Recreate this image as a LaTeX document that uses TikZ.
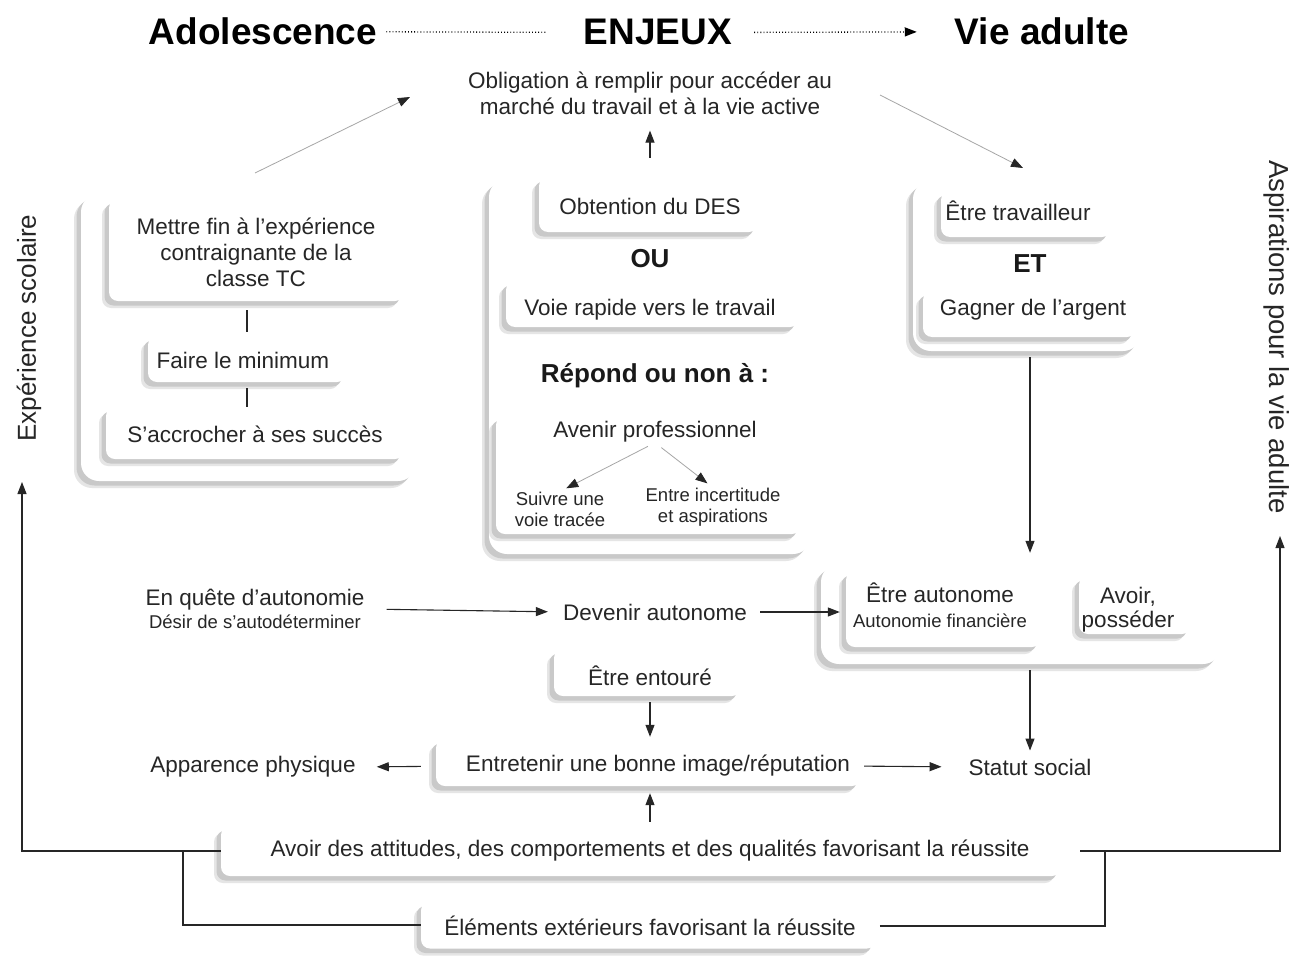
\documentclass[tikz,border=0pt]{standalone}
\usepackage{fontspec}
\setmainfont{Liberation Sans}
\usetikzlibrary{arrows.meta,shadows,calc}
\begin{document}
\begin{tikzpicture}[x=1pt,y=-1pt,
  txt/.style={font=\fontsize{22.5}{26}\selectfont, align=center, inner sep=0pt, text=black!85},
  sml/.style={font=\fontsize{18.5}{21}\selectfont, align=center, inner sep=0pt, text=black!85},
  bld/.style={font=\fontsize{26}{30}\selectfont\bfseries, inner sep=0pt, text=black!90},
  ttl/.style={font=\fontsize{37}{44}\selectfont\bfseries, inner sep=0pt, anchor=base},
  sidelbl/.style={font=\fontsize{26}{30}\selectfont, inner sep=0pt, text=black!85},
  panel/.style={fill=white, rounded corners=9pt, inner sep=0pt,
     drop shadow={shadow xshift=-7pt, shadow yshift=-7pt, fill=gray!20, opacity=1},
     drop shadow={shadow xshift=-4.5pt, shadow yshift=-4.5pt, fill=gray!42, opacity=1}},
  bigpanel/.style={panel, rounded corners=18pt},
  conn/.style={line width=1.1pt, draw=black!85},
  arr/.style={conn, -{Triangle[length=12pt,width=9pt]}},
  thinarr/.style={line width=0.8pt, draw=gray!70, -{Triangle[length=12pt,width=9pt,color=black!85,fill=black!85]}},
  dots/.style={line width=1.3pt, dash pattern=on 0.9pt off 2.2pt}
]
\fill[white] (0,0) rectangle (1295,958);
\useasboundingbox (0,0) rectangle (1295,958);

% ---------- panels (outer groups) ----------
\node[bigpanel, minimum width=335pt, minimum height=287pt] (p-left) at (248.5,337.5) {};
\node[bigpanel, minimum width=322pt, minimum height=375pt] (p-mid) at (650,366.5) {};
\node[bigpanel, minimum width=228pt, minimum height=170pt] (p-right) at (1027,266) {};
\node[bigpanel, minimum width=400pt, minimum height=100pt] (p-auto) at (1021,614) {};

% ---------- inner panels ----------
\node[panel, minimum width=295pt, minimum height=102pt] (p-mettre) at (256.5,250) {};
\node[panel, minimum width=198pt, minimum height=46pt] (p-faire) at (247,359) {};
\node[panel, minimum width=298pt, minimum height=52pt] (p-accroche) at (255,433) {};
\node[panel, minimum width=219pt, minimum height=55pt] (p-obt) at (648.5,204.5) {};
\node[panel, minimum width=293pt, minimum height=46pt] (p-voie) at (652.5,304) {};
\node[panel, minimum width=305pt, minimum height=118pt] (p-avenir) at (648.5,475) {};
\node[panel, minimum width=170pt, minimum height=46pt] (p-trav) at (1026,214) {};
\node[panel, minimum width=213pt, minimum height=46pt] (p-gagner) at (1029.5,314) {};
\node[panel, minimum width=195pt, minimum height=76pt] (p-etreauto) at (943.5,609) {};
\node[panel, minimum width=112pt, minimum height=58pt] (p-avoir) at (1135,605) {};
\node[panel, minimum width=187pt, minimum height=47pt] (p-entoure) at (647.5,672.5) {};
\node[panel, minimum width=425pt, minimum height=47pt] (p-entretenir) at (648.5,762.5) {};
\node[panel, minimum width=840pt, minimum height=50pt] (p-att) at (641,851) {};
\node[panel, minimum width=455pt, minimum height=47pt] (p-elem) at (648.5,925) {};

% ---------- titles ----------
\node[ttl] (t-ado) at (263,45) {Adolescence};
\node[ttl] (t-enj) at (658,45) {ENJEUX};
\node[ttl] (t-vie) at (1042,45) {Vie adulte};

% ---------- texts ----------
\node[txt] (t-oblig) at (650,93) {Obligation à remplir pour accéder au\\marché du travail et à la vie active};
\node[txt] (t-mettre) at (256,252) {Mettre fin à l'expérience\\contraignante de la\\classe TC};
\node[txt] (t-faire) at (243,360) {Faire le minimum};
\node[txt] (t-accroche) at (255,434) {S'accrocher à ses succès};
\node[txt] (t-obt) at (650,206) {Obtention du DES};
\node[bld] (t-ou) at (650,259) {OU};
\node[txt] (t-voie) at (650,310) {Voie rapide vers le travail};
\node[bld] (t-repond) at (655,376) {Répond ou non à :};
\node[txt] (t-avenir) at (655,432) {Avenir professionnel};
\node[sml] (t-suivre) at (560,509) {Suivre une\\voie tracée};
\node[sml] (t-entre) at (713,507) {Entre incertitude\\et aspirations};
\node[txt] (t-trav) at (1018,211) {Être travailleur};
\node[bld] (t-et) at (1030,264) {ET};
\node[txt] (t-gagner) at (1033,310) {Gagner de l'argent};
\node[txt] (t-quete) at (255,609) {En quête d'autonomie\\[-3pt]{\fontsize{18.5}{21}\selectfont Désir de s'autodéterminer}};
\node[txt] (t-devenir) at (655,612) {Devenir autonome};
\node[txt] (t-etreauto) at (940,605) {Être autonome\\[-1pt]{\fontsize{18.5}{21}\selectfont Autonomie financière}};
\node[txt] (t-avoir) at (1128,610) {Avoir,\\[-2pt]posséder};
\node[txt] (t-entoure) at (650,676) {Être entouré};
\node[txt] (t-entretenir) at (658,766) {Entretenir une bonne image/réputation};
\node[txt] (t-apparence) at (253,767) {Apparence physique};
\node[txt] (t-statut) at (1030,767) {Statut social};
\node[txt] (t-att) at (650,851) {Avoir des attitudes, des comportements et des qualités favorisant la réussite};
\node[txt] (t-elem) at (650,926) {Éléments extérieurs favorisant la réussite};
\node[sidelbl, rotate=90] (t-exp) at (29,328) {Expérience scolaire};
\node[sidelbl, rotate=-90, font=\fontsize{27.5}{31}\selectfont] (t-asp) at (1277,337) {Aspirations pour la vie adulte};

% ---------- free-end coordinates ----------
\coordinate (c-dl1) at (255,173);
\coordinate (c-dl2) at (410,97);
\coordinate (c-dr1) at (880,95);
\coordinate (c-dr2) at (1023,168);
\coordinate (c-expfoot) at (22,482);
\coordinate (c-aspfoot) at (1280,536);
\coordinate (c-joinL) at (183,851);
\coordinate (c-joinR) at (1105,851);

% ---------- connectors ----------
\draw[dots, shorten <=9pt, shorten >=37pt] (t-ado.east) -- (t-enj.west);
\draw[dots, -{Triangle[length=12pt,width=9pt]}, shorten <=22pt, shorten >=38pt] (t-enj.east) -- (t-vie.west);

\draw[thinarr] (c-dl1) -- (c-dl2);
\draw[thinarr] (c-dr1) -- (c-dr2);
\draw[arr, shorten <=21pt, shorten >=16pt] (p-mid.north) -- (t-oblig.south);

\draw[conn, shorten <=4pt, shorten >=9pt] (p-faire.north) -- (p-faire.north |- p-mettre.south);
\draw[conn, shorten <=6pt] (p-faire.south) -- (p-faire.south |- p-accroche.north);

\draw[thinarr, shorten <=8pt, shorten >=7pt] (t-avenir.south) -- (t-suivre.north);
\draw[thinarr, shorten <=8pt, shorten >=7pt] (t-avenir.south) -- (t-entre.north);

\draw[arr, shorten <=6pt, shorten >=11pt] (p-right.south -| t-statut) -- (p-auto.north -| t-statut);
\draw[arr, shorten <=6pt, shorten >=8pt] (p-auto.south -| t-statut) -- (t-statut.north);

\draw[arr, shorten <=22pt, shorten >=15pt] (t-quete.east) -- (t-devenir.west);
\draw[arr, shorten <=13pt, shorten >=6pt] (t-devenir.east) -- (p-etreauto.west |- t-devenir);

\draw[arr, shorten <=6pt, shorten >=2pt] (p-entoure.south -| t-att) -- (p-entretenir.north -| t-att);
\draw[arr, shorten <=45pt, shorten >=21pt] (t-entretenir.west) -- (t-apparence.east);
\draw[arr, shorten <=14pt, shorten >=27pt] (t-entretenir.east) -- (t-statut.west);
\draw[arr, shorten <=4pt, shorten >=7pt] (p-att.north -| t-att) -- (p-entretenir.south -| t-att);

\draw[arr] (p-att.west) -| (c-expfoot);
\draw[arr, shorten <=19pt] (p-att.east) -| (c-aspfoot);
\draw[conn] (p-elem.west) -| (c-joinL);
\draw[conn, shorten <=24pt] (t-elem.east) -| (c-joinR);
\end{tikzpicture}
\end{document}
